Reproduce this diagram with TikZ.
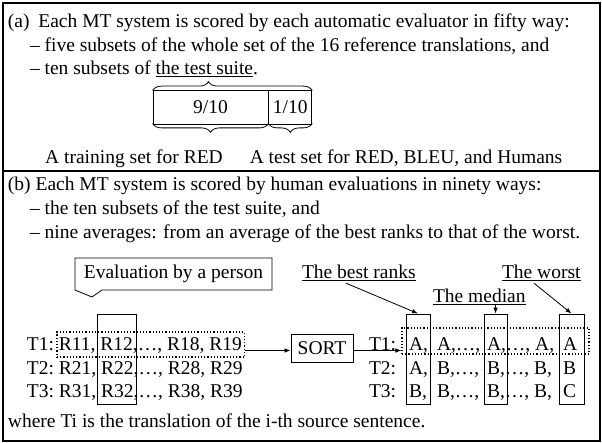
\documentclass[tikz,border=0pt]{standalone}
\usepackage{fontspec}
\setmainfont{Liberation Serif}
\usetikzlibrary{decorations.pathreplacing,arrows.meta,fit,calc}
\begin{document}
\begin{tikzpicture}[x=1pt,y=-1pt,
  txt/.style={inner sep=0pt, outer sep=0pt, font=\fontsize{19.5}{23}\selectfont, anchor=base west},
  cell/.style={draw, line width=0.8pt, inner sep=0pt, font=\fontsize{19.5}{23}\selectfont},
  colbox/.style={draw, line width=0.9pt, inner sep=0pt},
  dotbox/.style={draw, dotted, line width=1.2pt, inner sep=0pt},
  arr/.style={-{Latex[length=6pt,width=4.5pt]}, line width=0.8pt},
  brc/.style={decorate, decoration={brace, amplitude=9pt}, line width=0.8pt}
]
\useasboundingbox (0,0) rectangle (602,443);
% frame
\draw[line width=2pt] (3,3) rectangle (599.5,440.5);
\draw[line width=2pt] (3,171) -- (599.5,171);

% part (a)
\node[txt] (a1) at (8,28) {(a)\hspace{0.45em}Each MT system is scored by each automatic evaluator in fifty way:};
\node[txt] (a2) at (30,52) {– five subsets of the whole set of the 16 reference translations, and};
\node[txt] (a3) at (30,75) {– ten subsets of \underline{the test suite}.};

\node[cell, minimum width=115pt, minimum height=34pt] (nine) at (210.5,107) {9/10};
\node[cell, minimum width=43pt, minimum height=34pt, anchor=west] (one) at (nine.east) {1/10};
\draw[brc, decoration={aspect=0.35}] ([yshift=-1pt]nine.north west) -- ([yshift=-1pt]one.north east);
\draw[brc] ([yshift=1pt]nine.south east) -- ([yshift=1pt]nine.south west);
\draw[brc] ([yshift=1pt]one.south east) -- ([yshift=1pt]one.south west);

\node[txt, anchor=base] (train) at (134,164) {A training set for RED};
\node[txt, anchor=base] (test) at (406,164) {A test set for RED, BLEU, and Humans};

% part (b)
\node[txt] (b1) at (8,191) {(b) Each MT system is scored by human evaluations in ninety ways:};
\node[txt] (b2) at (30,215) {– the ten subsets of the test suite, and};
\node[txt] (b3) at (30,239) {– nine averages: from an average of the best ranks to that of the worst.};

% callout
\node[txt, anchor=center, minimum width=197pt, minimum height=32pt] (eval) at (173.5,274) {Evaluation by a person};
\draw[line width=0.8pt] (eval.north west) -- (eval.north east) -- (eval.south east)
  -- ($(eval.south west)+(27,0)$) -- ($(eval.south west)+(17,7)$) -- (eval.south west) -- cycle;

% left rows
\foreach \r/\y in {1/351,2/374,3/397}{
  \node[txt] (l\r a) at (27,\y) {T\r:\ \null};
  \node[txt] (l\r b) at (l\r a.base east) {R\r1,\ \null};
  \node[txt] (l\r c) at (l\r b.base east) {R\r2};
  \node[txt] (l\r d) at (l\r c.base east) {,…,\ R\r8,\ R\r9};
}
\coordinate (ytop) at (0,314);
\coordinate (ybot) at (0,404);
\coordinate (ldt) at (0,332);
\coordinate (ldb) at (0,357);
\coordinate (rdt) at (0,328);
\coordinate (rdb) at (0,354);
\coordinate (ay) at (0,350.5);

\node[colbox, fit={([xshift=-3pt]l1c.west |- ytop) ([xshift=3pt]l3c.east |- ybot)}] (rcol) {};
\node[dotbox, fit={([xshift=-2pt]l1b.west |- ldt) ([xshift=3pt]l1d.east |- ldb)}] (ldot) {};

\node[draw, line width=0.9pt, inner sep=0pt, minimum width=62pt, minimum height=28pt,
  font=\fontsize{19.5}{23}\selectfont] (sort) at (322,348) {SORT};

% right rows
\node[txt] (r1a) at (369,351) {T1:};
\node[txt] (r1b) at (409,351) {A,};
\node[txt] (r1c) at (437,351) {A,…,};
\node[txt] (r1d) at (487,351) {A};
\node[txt] (r1e) at (r1d.base east) {,…,\ A,};
\node[txt] (r1f) at (563,351) {A};

\node[txt] (r2a) at (369,374) {T2:};
\node[txt] (r2b) at (409,374) {A,};
\node[txt] (r2c) at (437,374) {B,…,};
\node[txt] (r2d) at (487,374) {B};
\node[txt] (r2e) at (r2d.base east) {,…,\ B,};
\node[txt] (r2f) at (563,374) {B};

\node[txt] (r3a) at (369,397) {T3:};
\node[txt] (r3b) at (409,397) {B,};
\node[txt] (r3c) at (437,397) {B,…,};
\node[txt] (r3d) at (487,397) {B};
\node[txt] (r3e) at (r3d.base east) {,…,\ B,};
\node[txt] (r3f) at (563,397) {C};

\node[colbox, fit={([xshift=-3pt]r1b.west |- ytop) ([xshift=2pt]r1b.east |- ybot)}] (bcol) {};
\node[colbox, fit={([xshift=-3pt]r1d.west |- ytop) ([xshift=6pt]r1d.east |- ybot)}] (mcol) {};
\node[colbox, fit={([xshift=-4pt]r1f.west |- ytop) ([xshift=7pt]r1f.east |- ybot)}] (wcol) {};
\node[dotbox, fit={([xshift=-7pt]r1b.west |- rdt) ([xshift=12pt]r1f.east |- rdb)}] (rdot) {};

\draw[arr] (ldot.east |- ay) -- (sort.west |- ay);
\draw[arr] (sort.east |- ay) -- (rdot.west |- ay);

% labels
\node[txt] (best) at (302,279) {\underline{The best ranks}};
\node[txt] (median) at (433,303) {\underline{The median}};
\node[txt] (worst) at (502,279) {\underline{The worst}};
\draw[arr] ($(best.south west)+(44,2)$) -- (bcol.north);
\draw[arr] (mcol.north |- median.south) -- (mcol.north);
\draw[arr] ($(worst.south west)+(32,2)$) -- (wcol.north);

\node[txt] (where) at (8,427) {where Ti is the translation of the i-th source sentence.};
\end{tikzpicture}
\end{document}
